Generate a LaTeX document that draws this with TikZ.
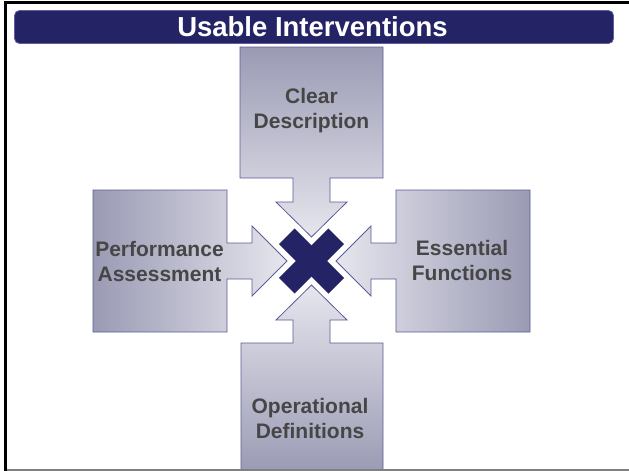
\documentclass[tikz,border=0pt]{standalone}
\usepackage{fontspec}
\setmainfont{Liberation Sans}

\definecolor{barnavy}{RGB}{35,35,102}
\definecolor{baredge}{RGB}{96,96,150}
\definecolor{arrowdark}{RGB}{154,154,180}
\definecolor{arrowlight}{RGB}{230,230,238}
\definecolor{arrowedge}{RGB}{92,92,150}
\definecolor{labelgray}{RGB}{70,70,70}

\begin{document}
\begin{tikzpicture}[x=1pt, y=-1pt,
  arrowshape/.style={draw=arrowedge, line width=0.8pt},
  armtext/.style={text=labelgray, font=\fontsize{21}{25}\selectfont\bfseries,
    align=center, inner sep=0pt}]

  \useasboundingbox (0,0) rectangle (629,471);

  % Title bar
  \draw[fill=barnavy, draw=baredge, line width=0.8pt, rounded corners=5pt]
    (14.5,10.5) rectangle (613.5,43.5);
  \node[text=white, font=\fontsize{27.5}{30}\selectfont\bfseries, anchor=base]
    (title) at (312.5,36) {Usable Interventions};

  % The four arrows, dark at the outside and light towards the middle
  \draw[arrowshape, top color=arrowdark, bottom color=arrowlight]
    (240,47) -- (383,47) -- (383,178) -- (330,178) -- (330,202) -- (347,202)
    -- (311.5,237) -- (276,202) -- (293,202) -- (293,178) -- (240,178) -- cycle;
  \draw[arrowshape, left color=arrowdark, right color=arrowlight]
    (93,190) -- (227,190) -- (227,243) -- (252,243) -- (252,226) -- (287,261)
    -- (252,296) -- (252,279) -- (227,279) -- (227,332) -- (93,332) -- cycle;
  \draw[arrowshape, left color=arrowlight, right color=arrowdark]
    (530,190) -- (396,190) -- (396,243) -- (371,243) -- (371,226) -- (336,261)
    -- (371,296) -- (371,279) -- (396,279) -- (396,332) -- (530,332) -- cycle;
  \draw[arrowshape, top color=arrowlight, bottom color=arrowdark]
    (241,473) -- (383,473) -- (383,343) -- (330,343) -- (330,320) -- (347,320)
    -- (311.5,285) -- (276,320) -- (293,320) -- (293,343) -- (241,343) -- cycle;

  % The cross in the middle
  \coordinate (centre) at (311.5,261);
  \fill[barnavy, shift={(centre)}, rotate=45] (-35,-11) rectangle (35,11);
  \fill[barnavy, shift={(centre)}, rotate=-45] (-35,-11) rectangle (35,11);

  % Labels
  \node[armtext] (clear) at (311.5,110.5) {Clear\\Description};
  \node[armtext] (perf) at (159.5,261) {Performance\\Assessment};
  \node[armtext] (essential) at (462,260) {Essential\\Functions};
  \node[armtext] (operational) at (310,418.5) {Operational\\Definitions};

  % Frame
  \draw[gray, line width=1.5pt] (5,470) -- (629,470);
  \draw[line width=2.5pt] (5.5,471) -- (5.5,2.5) -- (629,2.5);

\end{tikzpicture}
\end{document}
